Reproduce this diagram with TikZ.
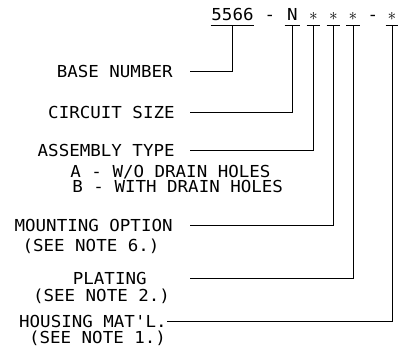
\documentclass[tikz,border=0pt]{standalone}
\usepackage{fontspec}
\setmonofont[FakeStretch=1.06]{DejaVu Sans Mono}
\usetikzlibrary{positioning}
\tikzset{lbl/.style = {inner sep = 0, text height = 12pt, text depth = 0pt, font = \ttfamily\fontsize{16.5}{19}\selectfont}}
\tikzset{code/.style = {lbl, inner ysep = 5pt}}
\tikzset{
  every picture/.style={
    every path/.style={line width=0.8pt},
  }
}
\begin{document}
\begin{tikzpicture}[x=1pt, y=-1pt]
      \useasboundingbox (0,0) rectangle (398,357);
      % part number
      \node[code, minimum width=43pt] (c5566) at (232.5,14) {5566};
      \node[code] (d1) at (270,14) {-};
      \node[code, minimum width=15pt] (cN) at (292.5,14) {N};
      \node[code, minimum width=13pt] (cA) at (313.5,14) {$\ast$};
      \node[code, minimum width=13pt] (cB) at (333.5,14) {$\ast$};
      \node[code, minimum width=13pt] (cC) at (353,14) {$\ast$};
      \node[code] (d2) at (373,14) {-};
      \node[code, minimum width=12pt] (cD) at (392,14) {$\ast$};
      % labels
      \node[lbl, anchor=east] (lbase) at (173,71) {BASE NUMBER};
      \node[lbl, anchor=east] (lsize) at (175,112) {CIRCUIT SIZE};
      \node[lbl, anchor=east] (ltype) at (175,150.5) {ASSEMBLY TYPE};
      \node[lbl, anchor=west] (ltypeA) at (70,171) {A - W/O DRAIN HOLES};
      \node[lbl, anchor=west] (ltypeB) at (72,186.5) {B - WITH DRAIN HOLES};
      \node[lbl, anchor=east] (lmount) at (173,225) {MOUNTING OPTION};
      \node[lbl] (lmount2) at (91,245) {(SEE NOTE 6.)};
      \node[lbl, anchor=east] (lplate) at (147,278) {PLATING};
      \node[lbl] (lplate2) at (101.5,295) {(SEE NOTE 2.)};
      \node[lbl, anchor=east] (lhouse) at (167,321) {HOUSING MAT'L.};
      \node[lbl] (lhouse2) at (97.5,337.5) {(SEE NOTE 1.)};
      \coordinate (start) at (190,0);
      % underlines
      \foreach \c in {c5566,cN,cA,cB,cC,cD}
        \draw (\c.south west) -- (\c.south east);
      % leaders
      \draw (lbase -| start) -- (lbase -| c5566) -- (c5566.south);
      \draw (lsize -| start) -- (lsize -| cN) -- (cN.south);
      \draw (ltype -| start) -- (ltype -| cA) -- (cA.south);
      \draw (lmount -| start) -- (lmount -| cB) -- (cB.south);
      \draw (lplate -| start) -- (lplate -| cC) -- (cC.south);
      \draw (lhouse.east) -- (lhouse -| cD) -- (cD.south);
    \end{tikzpicture}
\end{document}
